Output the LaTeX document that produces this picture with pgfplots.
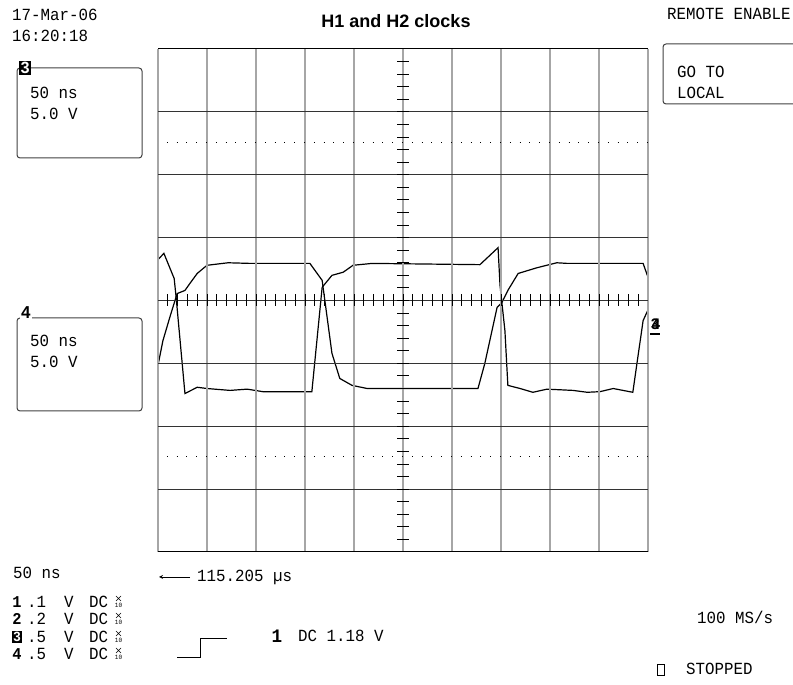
\documentclass[border=0pt]{standalone}
\usepackage{pgfplots}
\pgfplotsset{compat=1.18}
\usepackage{fontspec}
\setmainfont{Liberation Mono}[FakeStretch=0.93]
\newfontfamily\titlefont{Liberation Sans}
\newcommand\scopefont{\fontsize{17}{19}\selectfont}
\begin{document}
\begin{tikzpicture}[x=1pt,y=1pt]
\useasboundingbox (0,0) rectangle (793,685);
\begin{axis}[at={(158pt,133pt)}, anchor=south west, width=490pt, height=503pt,
  scale only axis, hide axis, xmin=0, xmax=10, ymin=-4, ymax=4, clip=false]
% trace 3
\addplot[black, line width=1.2pt] coordinates {
(0,0.65) (0.12,0.75) (0.33,0.35) (0.37,0.05) (0.55,-1.48) (0.80,-1.38) (1.0,-1.40)
(1.47,-1.43) (1.82,-1.41) (2.14,-1.45) (3.14,-1.45) (3.35,0.21) (3.55,0.40) (3.78,0.45)
(3.98,0.56) (4.37,0.59) (6.57,0.57) (6.94,0.84) (6.98,0.24) (7.08,-0.48) (7.14,-1.35)
(7.39,-1.40) (7.65,-1.46) (7.94,-1.41) (8.47,-1.43) (8.76,-1.46) (9.02,-1.45) (9.29,-1.40)
(9.69,-1.46) (9.90,-0.32) (10,-0.15)};
% trace 4
\addplot[black, line width=1.2pt] coordinates {
(0,-1.03) (0.10,-0.64) (0.24,-0.27) (0.39,0.11) (0.55,0.16) (0.65,0.27) (0.80,0.43)
(1.0,0.56) (1.43,0.60) (1.88,0.59) (3.10,0.59) (3.35,0.32) (3.55,-0.84) (3.71,-1.24)
(3.96,-1.35) (4.27,-1.40) (6.53,-1.40) (6.67,-1.00) (6.92,-0.11) (7.02,-0.03) (7.14,0.16)
(7.35,0.43) (7.73,0.52) (8.14,0.60) (8.35,0.59) (9.90,0.59) (10,0.37)};
\end{axis}
\begin{scope}[shift={(0pt,685pt)}, x=1pt, y=-1pt]
% grid
\foreach \k in {0,...,10} {\draw[gray!70, line width=1.4pt] ({158+49*\k},49) -- ({158+49*\k},552);}
\foreach \k in {1,...,7} {\draw[black!80, line width=0.8pt] (158,{49+62.875*\k}) -- (648,{49+62.875*\k});}
\draw[black, line width=1pt] (158,49) -- (648,49);
\draw[black, line width=1pt] (158,552) -- (648,552);
\foreach \k in {1,...,49} {\draw[black, line width=0.9pt] ({158+9.8*\k},294.5) -- ({158+9.8*\k},306.5);}
\foreach \k in {1,...,39} {\draw[black, line width=0.9pt] (397,{49+12.575*\k}) -- (409,{49+12.575*\k});}
\draw[black, line width=1pt, dash pattern=on 1pt off 8.8pt] (166.8,143) -- (648,143);
\draw[black, line width=1pt, dash pattern=on 1pt off 8.8pt] (166.8,457) -- (648,457);
% header texts
\node[anchor=west, font=\scopefont, inner sep=0] at (12,15) {17-Mar-06};
\node[anchor=west, font=\scopefont, inner sep=0] at (12,36) {16:20:18};
\node[font=\titlefont\bfseries\fontsize{18}{20}\selectfont, inner sep=0] at (396,21) {H1 and H2 clocks};
\node[anchor=west, font=\scopefont, inner sep=0] at (667,14) {REMOTE ENABLE};
% boxes
\draw[black!75, line width=1pt, rounded corners=3pt] (17,68) rectangle (142,158);
\node[fill=black, text=white, font=\bfseries\fontsize{17}{17}\selectfont, inner sep=1pt] at (25,68) {3};
\node[anchor=west, font=\scopefont, inner sep=0] at (30,93) {50 ns};
\node[anchor=west, font=\scopefont, inner sep=0] at (30,114) {5.0 V};
\draw[black!75, line width=1pt, rounded corners=3pt] (17,318) rectangle (142,411);
\node[fill=white, font=\bfseries\fontsize{18}{18}\selectfont, inner sep=0.5pt] at (26,313) {4};
\node[anchor=west, font=\scopefont, inner sep=0] at (30,341) {50 ns};
\node[anchor=west, font=\scopefont, inner sep=0] at (30,362) {5.0 V};
\draw[black!75, line width=1pt, rounded corners=3pt] (663,44) rectangle (800,104);
\node[anchor=west, font=\scopefont, inner sep=0] at (677,72) {GO TO};
\node[anchor=west, font=\scopefont, inner sep=0] at (677,93) {LOCAL};
% right markers
\node[font=\bfseries\fontsize{16}{16}\selectfont, inner sep=0] at (655,324) {3};
\node[font=\bfseries\fontsize{16}{16}\selectfont, inner sep=0] at (656,324) {4};
\draw[black, line width=1.5pt] (650,334) -- (660,334);
% bottom texts
\node[anchor=west, font=\scopefont, inner sep=0] at (13,573) {50 ns};
\draw[black, line width=0.8pt, ->, >=stealth] (190,577) -- (159,577);
\node[anchor=west, font=\scopefont, inner sep=0] at (197,577) {115.205 µs};
\foreach \r/\d/\v in {602/1/.1, 619/2/.2, 637/3/.5, 654/4/.5} {
  \node[anchor=west, font=\scopefont, inner sep=0] at (27,\r) {\v};
  \node[anchor=west, font=\scopefont, inner sep=0] at (64,\r) {V};
  \node[anchor=west, font=\scopefont, inner sep=0] at (89,\r) {DC};
  \draw[black, line width=0.6pt] (116,{\r-6}) -- (121,{\r-1}) (116,{\r-1}) -- (121,{\r-6});
  \node[anchor=base, font=\fontsize{6.5}{6.5}\selectfont, inner sep=0] at (118.5,\r+6) {10};
}
\node[font=\bfseries\fontsize{16.5}{16.5}\selectfont, inner sep=0] at (17,602) {1};
\node[font=\bfseries\fontsize{16.5}{16.5}\selectfont, inner sep=0] at (17,619) {2};
\node[fill=black, text=white, font=\bfseries\fontsize{14}{14}\selectfont, inner sep=0.8pt] at (17,637) {3};
\node[font=\bfseries\fontsize{16.5}{16.5}\selectfont, inner sep=0] at (17,654) {4};
\draw[black, line width=1pt] (177,658) -- (200,658) -- (200,639) -- (227,639);
\node[font=\bfseries\fontsize{19}{19}\selectfont, inner sep=0] at (277,636) {1};
\node[anchor=west, font=\scopefont, inner sep=0] at (298,636) {DC 1.18 V};
\node[anchor=west, font=\scopefont, inner sep=0] at (697,617) {100 MS/s};
\draw[black, line width=0.8pt] (657,664) rectangle (664,675);
\node[anchor=west, font=\scopefont, inner sep=0] at (686,669) {STOPPED};
\end{scope}
\end{tikzpicture}
\end{document}
